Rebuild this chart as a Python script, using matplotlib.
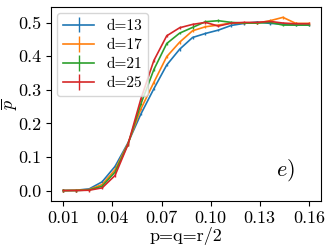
import numpy as np
import matplotlib
matplotlib.use("Agg")
import matplotlib.pyplot as plt

plt.rcParams.update({
    'font.family': 'serif',
    'font.serif': ['cmr10'],
    'mathtext.fontset': 'cm',
    'axes.formatter.use_mathtext': True,
    'font.size': 13,
})

# p = q = r/2 sample points
p = np.linspace(0.01, 0.16, 20)

d13 = [0.000, 0.001, 0.005, 0.026, 0.072, 0.142, 0.228, 0.303, 0.374, 0.421,
       0.456, 0.468, 0.478, 0.492, 0.498, 0.502, 0.498, 0.496, 0.493, 0.493]
d17 = [0.000, 0.001, 0.003, 0.018, 0.062, 0.140, 0.243, 0.322, 0.399, 0.442,
       0.476, 0.488, 0.493, 0.499, 0.499, 0.499, 0.506, 0.516, 0.498, 0.498]
d21 = [0.000, 0.000, 0.002, 0.013, 0.055, 0.138, 0.258, 0.360, 0.438, 0.469,
       0.486, 0.503, 0.506, 0.501, 0.499, 0.499, 0.501, 0.493, 0.493, 0.493]
d25 = [0.000, 0.000, 0.001, 0.008, 0.045, 0.137, 0.273, 0.387, 0.461, 0.485,
       0.495, 0.501, 0.490, 0.499, 0.501, 0.501, 0.504, 0.499, 0.497, 0.497]

series = [("d=13", d13), ("d=17", d17), ("d=21", d21), ("d=25", d25)]

fig = plt.figure(figsize=(3.32, 2.49), dpi=100)
ax = fig.add_axes([0.154, 0.194, 0.813, 0.777])

for label, vals in series:
    ax.errorbar(p, vals, yerr=0.004, label=label, linewidth=1.2, elinewidth=1.0)

ax.set_xticks([0.01, 0.04, 0.07, 0.10, 0.13, 0.16])
ax.set_xticklabels(["0.01", "0.04", "0.07", "0.10", "0.13", "0.16"])
ax.set_yticks([0.0, 0.1, 0.2, 0.3, 0.4, 0.5])
ax.set_yticklabels(["0.0", "0.1", "0.2", "0.3", "0.4", "0.5"])

ax.set_xlabel("p=q=r/2", labelpad=1)
ax.set_ylabel(r"$\overline{p}$", fontsize=13)
ax.yaxis.set_label_coords(-0.118, 0.5)

ax.legend(loc='upper left', fontsize=11, handlelength=2.0, borderaxespad=0.4,
          labelspacing=0.35)
ax.text(0.867, 0.16, r"$e)$", transform=ax.transAxes, fontsize=16,
        ha='center', va='center')

fig.savefig("out.png", dpi=100)
